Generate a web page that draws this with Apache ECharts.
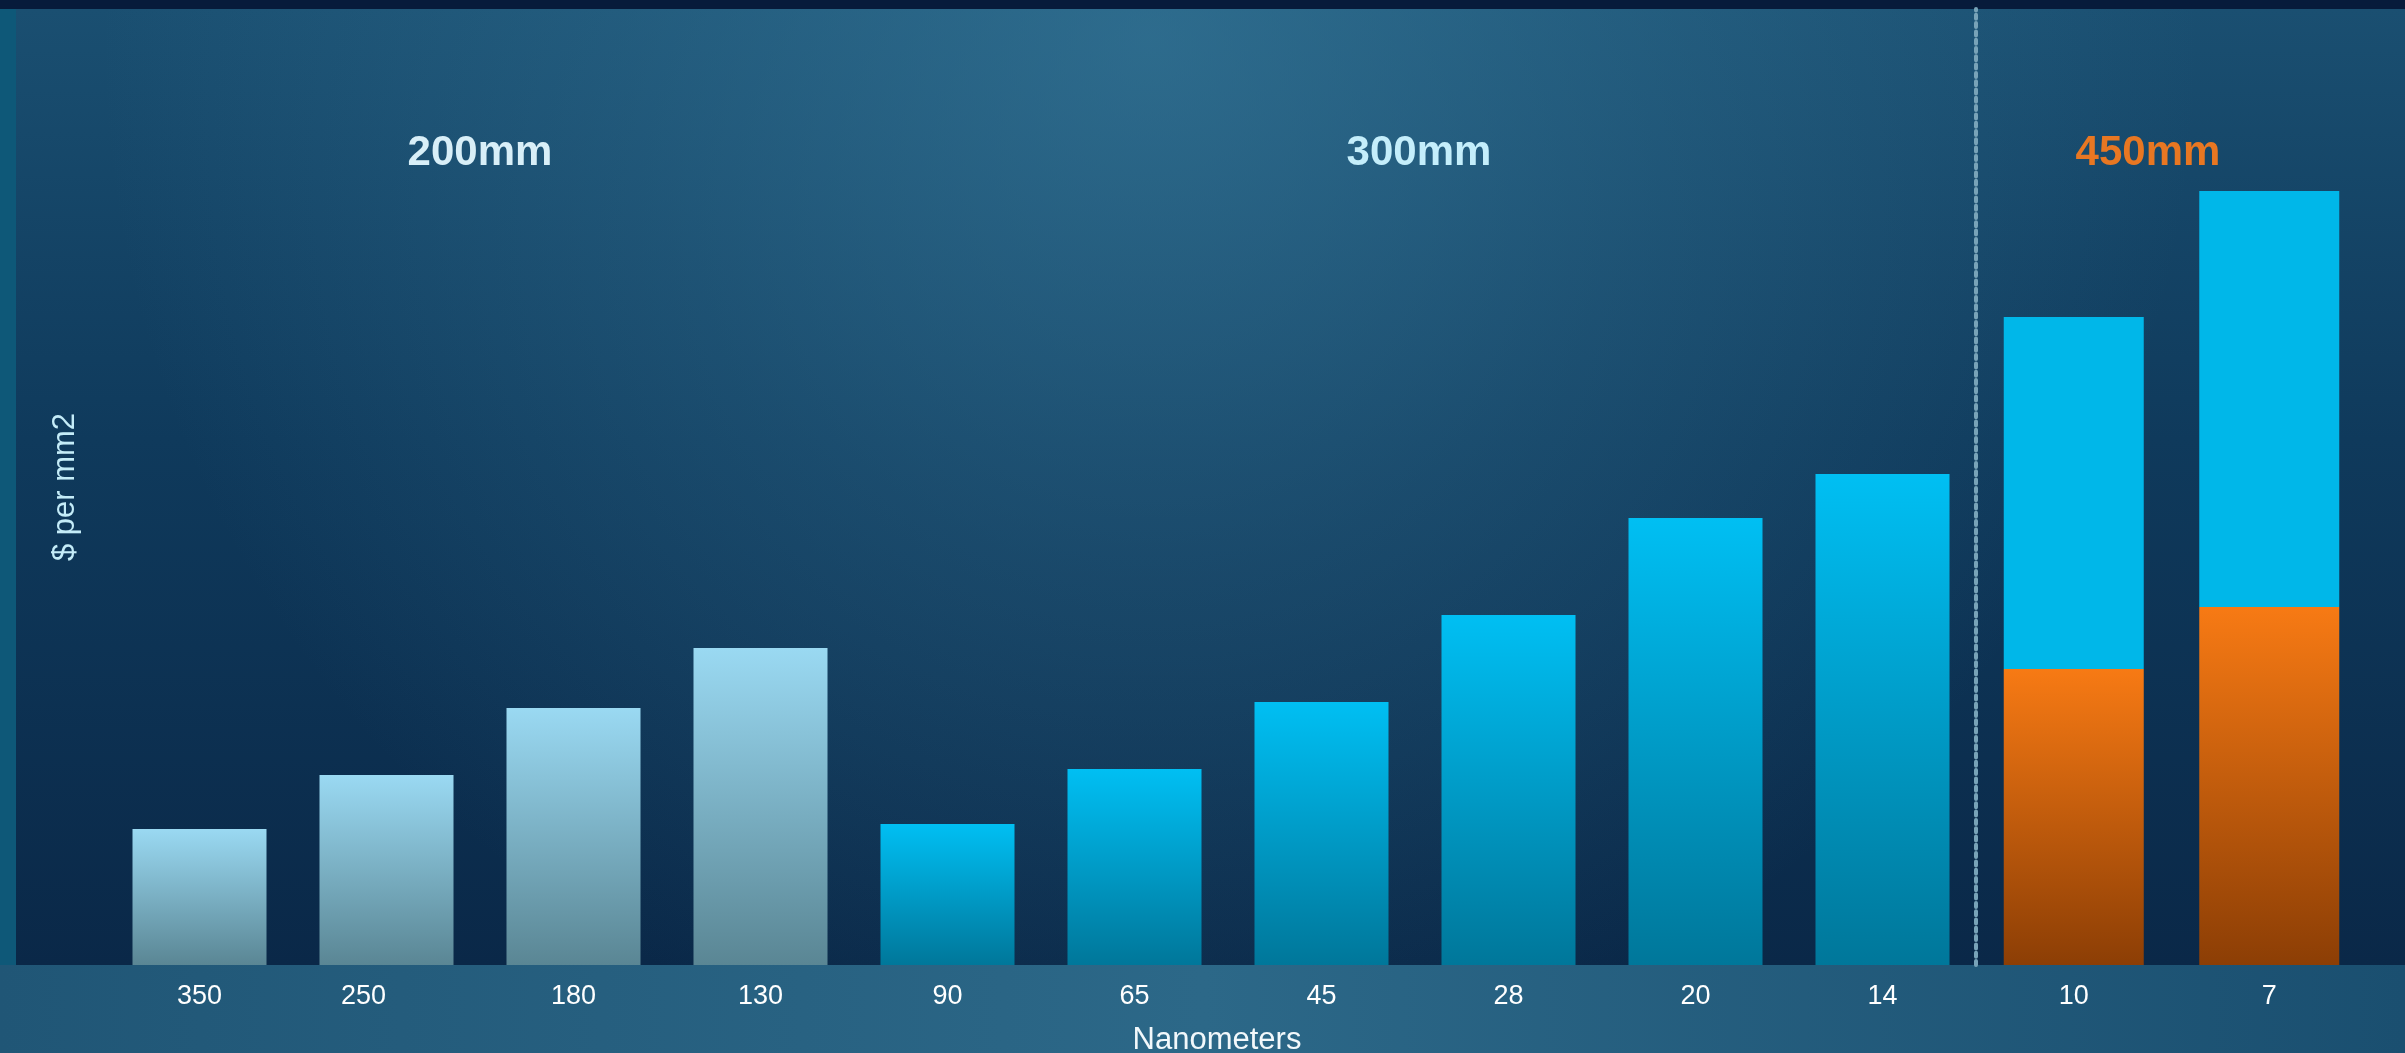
<!DOCTYPE html>
<html>
<head>
<meta charset="utf-8">
<script src="https://cdn.jsdelivr.net/npm/echarts@6/dist/echarts.min.js"></script>
<style>
  html, body { margin: 0; padding: 0; background: #235b7b; }
  #chart { width: 2405px; height: 1053px; }
</style>
</head>
<body>
<div id="chart"></div>
<script>
// ---- data ----
const categories200 = ['350', '250', '180', '130'];
const values200 = [13.6, 19.0, 25.7, 31.7];
const categories300 = ['90', '65', '45', '28', '20', '14'];
const values300 = [14.1, 19.6, 26.3, 35.0, 44.7, 49.1];
const categories450 = ['10', '7'];
const values450Base = [29.6, 35.8];   // orange lower part
const values450Top = [35.2, 41.6];    // blue upper part (stacked)
const groupLabels = ['200mm', '300mm', '450mm'];
const xAxisTitle = 'Nanometers';
const yAxisTitle = '$ per mm2';

// ---- styles ----
const FONT = '"Liberation Sans", Arial, sans-serif';
const chart = echarts.init(document.getElementById('chart'));
const LG = echarts.graphic.LinearGradient;
const RG = echarts.graphic.RadialGradient;

const cats1 = categories200.concat(categories300);
const s200 = values200.concat(categories300.map(() => null));
const s300 = categories200.map(() => null).concat(values300);

const labelStyle = {
  color: '#ffffff', fontSize: 27, fontFamily: FONT, margin: 18
};

const option = {
  animation: false,
  grid: [
    { left: 106, top: 9, width: 1870, height: 956 },
    { left: 1976, top: 9, width: 391, height: 956 }
  ],
  xAxis: [
    {
      type: 'category', gridIndex: 0, data: cats1,
      axisLine: { show: false }, axisTick: { show: false },
      axisLabel: Object.assign({}, labelStyle, {
        formatter: v => v === '250' ? '{shift|' + v + '}' : v,
        rich: { shift: { padding: [0, 46, 0, 0], color: '#ffffff', fontSize: 27, fontFamily: FONT } }
      })
    },
    {
      type: 'category', gridIndex: 1, data: categories450,
      axisLine: { show: false }, axisTick: { show: false },
      axisLabel: labelStyle
    }
  ],
  yAxis: [
    {
      type: 'value', gridIndex: 0, min: 0, max: 95.6,
      axisLine: { show: false }, axisTick: { show: false },
      axisLabel: { show: false }, splitLine: { show: false },
      name: yAxisTitle, nameLocation: 'middle', nameRotate: 90, nameGap: 25,
      nameTextStyle: { color: '#c4ecf8', fontSize: 31, fontFamily: FONT }
    },
    {
      type: 'value', gridIndex: 1, min: 0, max: 95.6,
      axisLine: { show: true, lineStyle: { color: '#78a3b8', width: 4, type: [4, 4.3] } },
      axisTick: { show: false }, axisLabel: { show: false }, splitLine: { show: false }
    }
  ],
  series: [
    {
      name: groupLabels[0], type: 'bar', xAxisIndex: 0, yAxisIndex: 0,
      barWidth: 134, barGap: '-100%', data: s200,
      itemStyle: { color: new LG(0, 0, 0, 1, [{ offset: 0, color: '#9ad9f2' }, { offset: 1, color: '#5a8694' }]) }
    },
    {
      name: groupLabels[1], type: 'bar', xAxisIndex: 0, yAxisIndex: 0,
      barWidth: 134, barGap: '-100%', data: s300,
      itemStyle: { color: new LG(0, 0, 0, 1, [{ offset: 0, color: '#00bff3' }, { offset: 1, color: '#00779a' }]) }
    },
    {
      name: groupLabels[2] + ' base', type: 'bar', xAxisIndex: 1, yAxisIndex: 1,
      stack: 'w450', barWidth: 140, data: values450Base,
      itemStyle: { color: new LG(0, 0, 0, 1, [{ offset: 0, color: '#f77a14' }, { offset: 1, color: '#8c3e05' }]) }
    },
    {
      name: groupLabels[2], type: 'bar', xAxisIndex: 1, yAxisIndex: 1,
      stack: 'w450', barWidth: 140, data: values450Top,
      itemStyle: { color: '#00b7e9' }
    }
  ],
  graphic: [
    { type: 'rect', z: -10, silent: true, shape: { x: 0, y: 0, width: 2405, height: 1053 },
      style: { fill: new LG(0, 0, 1, 0, [{ offset: 0, color: '#205676' }, { offset: 0.5, color: '#2c6888' }, { offset: 1, color: '#1a4f70' }]) } },
    { type: 'rect', z: -9, silent: true, shape: { x: 0, y: 0, width: 2405, height: 9 }, style: { fill: '#071b3b' } },
    { type: 'rect', z: -9, silent: true, shape: { x: 0, y: 9, width: 16, height: 956 }, style: { fill: '#0e5878' } },
    { type: 'rect', z: -9, silent: true, shape: { x: 16, y: 9, width: 2389, height: 956 },
      style: { fill: new LG(0, 0, 0, 1, [{ offset: 0, color: '#1a4f71' }, { offset: 0.45, color: '#0f3a5c' }, { offset: 1, color: '#0a2848' }]) } },
    { type: 'rect', z: -8, silent: true, shape: { x: 16, y: 9, width: 2389, height: 956 },
      style: { fill: new RG(1150, 40, 1050, [{ offset: 0, color: 'rgba(62,132,165,0.55)' }, { offset: 0.5, color: 'rgba(62,132,165,0.25)' }, { offset: 1, color: 'rgba(62,132,165,0)' }], true) } },
    { type: 'text', z: 10, silent: true, x: 480, y: 153,
      style: { text: groupLabels[0], fill: '#d8eff8', fontSize: 42, fontWeight: 'bold', fontFamily: FONT, textAlign: 'center', textVerticalAlign: 'middle' } },
    { type: 'text', z: 10, silent: true, x: 1419, y: 153,
      style: { text: groupLabels[1], fill: '#c4eefb', fontSize: 42, fontWeight: 'bold', fontFamily: FONT, textAlign: 'center', textVerticalAlign: 'middle' } },
    { type: 'text', z: 10, silent: true, x: 2148, y: 153,
      style: { text: groupLabels[2], fill: '#e87722', fontSize: 42, fontWeight: 'bold', fontFamily: FONT, textAlign: 'center', textVerticalAlign: 'middle' } },
    { type: 'text', z: 10, silent: true, x: 1217, y: 1040,
      style: { text: xAxisTitle, fill: '#f2f8fb', fontSize: 31, fontFamily: FONT, textAlign: 'center', textVerticalAlign: 'middle' } }
  ]
};
chart.setOption(option);
</script>
</body>
</html>
